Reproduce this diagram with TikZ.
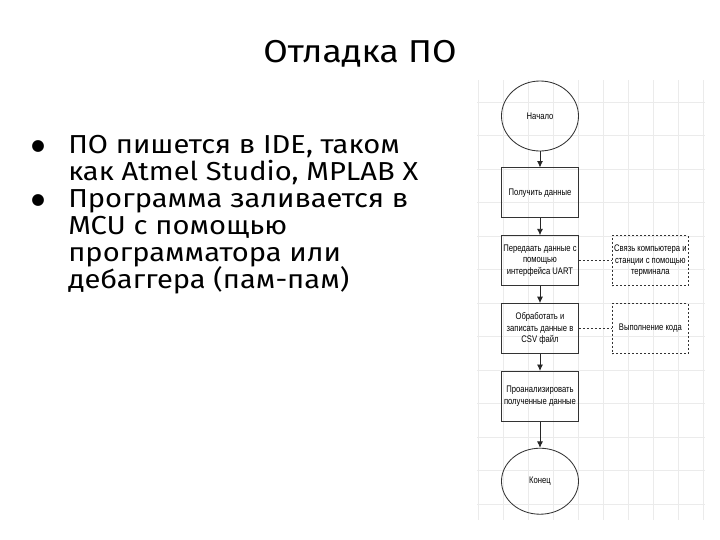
\documentclass[tikz,border=0pt]{standalone}
\usepackage{fontspec}
\setmainfont[FakeStretch=1.12]{Fira Sans}
\newfontfamily\chartfont[FakeStretch=0.8]{Liberation Sans}
\newfontfamily\symfont{DejaVu Sans}
\usetikzlibrary{positioning,shapes.geometric,arrows.meta}

\newcommand\itemfont{\fontsize{18.5}{19}\selectfont\lineskiplimit=-100pt\relax}

\tikzset{
  block/.style={draw=black!80, semithick, rectangle, minimum width=19.25mm, minimum height=12.5mm,
    inner sep=1pt, align=center, font=\chartfont\fontsize{6.8}{8.3}\selectfont},
  term/.style={draw=black!80, semithick, ellipse, minimum width=19.25mm, minimum height=17.5mm,
    inner sep=1pt, font=\chartfont\fontsize{6.8}{8.3}\selectfont},
  note/.style={draw=black!80, semithick, dash pattern=on 0.5mm off 0.5mm, rectangle,
    minimum width=19mm, minimum height=12.5mm, inner sep=1pt, align=center,
    font=\chartfont\fontsize{6.8}{8.3}\selectfont},
  flow/.style={draw=black!85, semithick, -{Latex[length=1.6mm,width=1.5mm]}},
  assoc/.style={draw=black!80, semithick, dash pattern=on 0.5mm off 0.5mm},
  item/.style={anchor=base west, align=left, inner sep=0pt, font=\itemfont},
  dot/.style={anchor=base, font=\symfont\fontsize{11}{12}\selectfont}
}

\begin{document}
\begin{tikzpicture}[x=0.25mm, y=-0.25mm]
  \useasboundingbox (0,0) rectangle (720,540);
  \fill[white] (0,0) rectangle (720,540);

  % grid behind the flow chart
  \foreach \gx in {478,503,...,703}
    \draw[black!8] (\gx,80) -- (\gx,520);
  \foreach \gy in {0,...,12}
    \draw[black!8] (477,{102+33.5*\gy}) -- (705,{102+33.5*\gy});

  % title and text
  \node[anchor=base, font=\fontsize{22.5}{26}\selectfont] (title) at (360,62) {Отладка ПО};
  \node[dot] (dot1) at (38,150) {●};
  \node[item] (item1) at (68,180) {ПО пишется в IDE, таком\\как Atmel Studio, MPLAB X};
  \node[dot] (dot2) at (38,204) {●};
  \node[item] (item2) at (68,288) {Программа заливается в\\MCU с помощью\\программатора или\\дебаггера (пам-пам)};

  % flow chart
  \node[term] (start) at (540,116) {Начало};
  \node[block, below=4mm of start] (get) {Получить данные};
  \node[block, below=4.25mm of get] (send) {Передаать данные с\\помощью\\интерфейса UART};
  \node[block, below=4.25mm of send] (proc) {Обработать и\\записать данные в\\CSV файл};
  \node[block, below=4.25mm of proc] (analyse) {Проанализировать\\полученные данные};
  \node[term, minimum height=16.5mm, below=6.5mm of analyse] (finish) {Конец};

  \node[note, right=8.25mm of send] (link) {Связь компьютера и\\станции с помощью\\терминала};
  \node[note, right=8.25mm of proc] (run) {Выполнение кода};

  \draw[flow] (start) -- (get);
  \draw[flow] (get) -- (send);
  \draw[flow] (send) -- (proc);
  \draw[flow] (proc) -- (analyse);
  \draw[flow] (analyse) -- (finish);
  \draw[assoc] (send.east) -- (link.west);
  \draw[assoc] (proc.east) -- (run.west);
\end{tikzpicture}
\end{document}
